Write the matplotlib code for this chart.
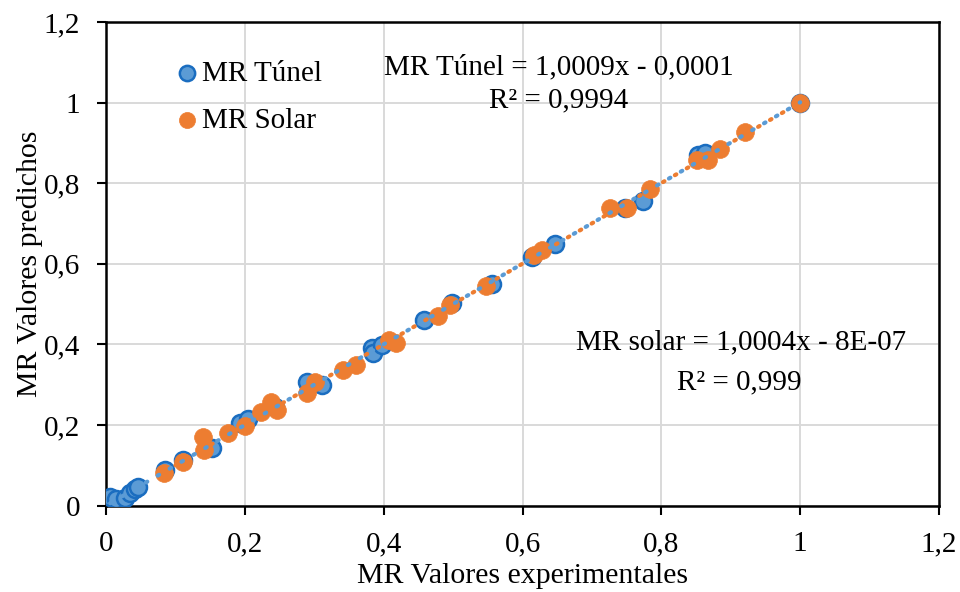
import numpy as np
import matplotlib
matplotlib.use("Agg")
import matplotlib.pyplot as plt
from matplotlib.ticker import FuncFormatter, MultipleLocator

# ==========================================
# datos
# ==========================================
tunel_x = [0.006, 0.015, 0.027, 0.035, 0.042, 0.046, 0.085, 0.111, 0.152, 0.193,
           0.205, 0.243, 0.289, 0.311, 0.383, 0.385, 0.397, 0.458, 0.498, 0.556,
           0.613, 0.647, 0.748, 0.773, 0.853, 0.863, 1.0]
tunel_y = [0.021, 0.016, 0.018, 0.031, 0.040, 0.045, 0.088, 0.112, 0.142, 0.204,
           0.214, 0.245, 0.307, 0.299, 0.390, 0.378, 0.398, 0.460, 0.502, 0.549,
           0.617, 0.648, 0.739, 0.756, 0.870, 0.874, 1.0]

solar_x = [0.083, 0.111, 0.140, 0.141, 0.176, 0.200, 0.224, 0.237, 0.247, 0.289,
           0.301, 0.341, 0.360, 0.407, 0.418, 0.478, 0.495, 0.548, 0.617, 0.628,
           0.726, 0.750, 0.783, 0.851, 0.867, 0.885, 0.920, 1.0]
solar_y = [0.082, 0.107, 0.169, 0.138, 0.179, 0.197, 0.233, 0.258, 0.237, 0.279,
           0.307, 0.337, 0.349, 0.410, 0.404, 0.470, 0.499, 0.546, 0.623, 0.634,
           0.739, 0.738, 0.785, 0.858, 0.858, 0.885, 0.926, 1.0]

# coeficientes de las líneas de tendencia (de las etiquetas)
tunel_fit = (1.0009, -0.0001)
solar_fit = (1.0004, -8e-07)

BLUE = "#5B9BD5"
BLUE_EDGE = "#1A6DC0"
ORANGE = "#ED7D31"
FS = 21

plt.rcParams['font.family'] = ['Liberation Serif', 'DejaVu Serif']

fig = plt.figure(figsize=(9.6, 5.92), dpi=100)
ax = fig.add_axes([106 / 960, 1 - 505.6 / 592, (939 - 106) / 960, (505.6 - 22) / 592])

ax.scatter(tunel_x, tunel_y, s=150, c=BLUE, edgecolors=BLUE_EDGE, linewidths=1.8,
           zorder=3, label="MR Túnel")
ax.scatter(solar_x, solar_y, s=165, c=ORANGE, edgecolors=ORANGE, linewidths=0.5,
           zorder=4, label="MR Solar")

# líneas de tendencia punteadas (puntos alternados)
xt = np.array([min(tunel_x), max(tunel_x)])
ax.plot(xt, tunel_fit[0] * xt + tunel_fit[1], color=BLUE, lw=3.0,
        linestyle=(0, (0.4, 2.9)), dash_capstyle='round', zorder=5)
xs = np.array([min(solar_x), max(solar_x)])
ax.plot(xs, solar_fit[0] * xs + solar_fit[1], color=ORANGE, lw=3.0,
        linestyle=(0, (0.4, 2.9)), dash_capstyle='round', zorder=6)

ax.set_xlim(0, 1.2)
ax.set_ylim(0, 1.2)
ax.xaxis.set_major_locator(MultipleLocator(0.2))
ax.yaxis.set_major_locator(MultipleLocator(0.2))

fmt = FuncFormatter(lambda v, p: f"{v:.1f}".rstrip('0').rstrip('.').replace('.', ','))
ax.xaxis.set_major_formatter(fmt)
ax.yaxis.set_major_formatter(fmt)

ax.grid(True, color="#D9D9D9", lw=1.4, zorder=0)
ax.set_axisbelow(True)
for sp in ax.spines.values():
    sp.set_linewidth(1.8)
    sp.set_color("black")
ax.tick_params(direction='out', length=6.5, width=1.5, labelsize=FS)
ax.tick_params(axis='x', pad=12)
ax.tick_params(axis='y', pad=12)

ax.set_xlabel("MR Valores experimentales", fontsize=21.5, labelpad=4)
ax.set_ylabel("MR Valores predichos", fontsize=21.5, labelpad=1)

# etiquetas de ecuaciones
ax.text(0.652, 1.087, "MR Túnel = 1,0009x - 0,0001", fontsize=FS, ha='center', va='center')
ax.text(0.652, 1.006, "R² = 0,9994", fontsize=FS, ha='center', va='center')
ax.text(0.915, 0.404, "MR solar = 1,0004x - 8E-07", fontsize=FS, ha='center', va='center')
ax.text(0.913, 0.306, "R² = 0,999", fontsize=FS, ha='center', va='center')

leg = ax.legend(loc='upper left', bbox_to_anchor=(0.071, 0.951), frameon=False,
                fontsize=FS, handlelength=0.5, handletextpad=0.25, labelspacing=0.7,
                borderpad=0, scatterpoints=1, markerscale=0.9)

fig.savefig("out.png", dpi=100)
